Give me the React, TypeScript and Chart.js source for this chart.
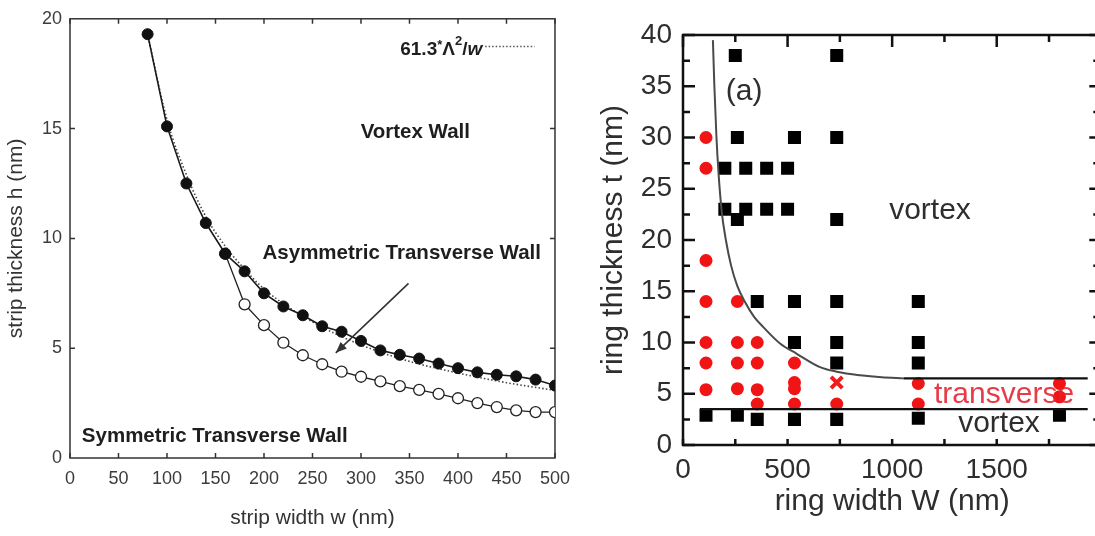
import React, { useEffect, useRef } from 'react';
import { Chart, registerables } from 'chart.js';

Chart.register(...registerables);

const FONT = '"Liberation Sans", Arial, Helvetica, sans-serif';

// ---------------- Left panel data (strip) ----------------
const stripWidthAsym = [80, 100, 120, 140, 160, 180, 200, 220, 240, 260, 280, 300, 320, 340, 360, 380, 400, 420, 440, 460, 480, 500];
const thicknessAsym = [19.3, 15.1, 12.5, 10.7, 9.3, 8.5, 7.5, 6.9, 6.5, 6.0, 5.75, 5.33, 4.9, 4.7, 4.53, 4.3, 4.09, 3.9, 3.79, 3.72, 3.57, 3.3];
const stripWidthSym = [160, 180, 200, 220, 240, 260, 280, 300, 320, 340, 360, 380, 400, 420, 440, 460, 480, 500];
const thicknessSym = [9.3, 7.0, 6.05, 5.25, 4.68, 4.27, 3.93, 3.7, 3.49, 3.27, 3.1, 2.92, 2.72, 2.5, 2.32, 2.17, 2.09, 2.09];
const stripWidthFit = [80, 100, 120, 140, 160, 180, 200, 250, 300, 350, 400, 450, 500];
const thicknessFit = [19.3, 15.4, 12.9, 11.0, 9.65, 8.6, 7.7, 6.2, 5.15, 4.4, 3.87, 3.43, 3.08];
const stripXTickStep = 50;
const stripYTickStep = 5;

// ---------------- Right panel data (ring) ----------------
const vortexW = [110, 200, 200, 250, 260, 260, 260, 300, 300, 355, 355, 400, 400, 500, 500, 533, 533, 533, 533, 735, 735, 735, 735, 735, 735, 735, 1125, 1125, 1125, 1125, 1800];
const vortexT = [2.9, 27, 23, 38, 30, 22, 2.9, 27, 23, 14, 2.5, 27, 23, 27, 23, 30, 14, 10, 2.5, 38, 30, 22, 14, 10, 8, 2.5, 14, 10, 8, 2.6, 2.9];
const transverseW = [110, 110, 110, 110, 110, 110, 110, 260, 260, 260, 260, 355, 355, 355, 355, 533, 533, 533, 533, 735, 1125, 1125, 1800, 1800];
const transverseT = [30, 27, 18, 14, 10, 8, 5.4, 14, 10, 8, 5.5, 10, 8, 5.4, 4, 8, 6.1, 5.5, 4, 4, 6, 4, 6, 4.7];
const crossW = [735];
const crossT = [6.1];
const boundaryW = [143, 150, 160, 170, 185, 205, 230, 260, 295, 340, 384, 464, 544, 655, 735, 847, 950, 1054];
const boundaryT = [39.5, 35, 30, 26.5, 22.8, 20, 17.5, 15.5, 14, 12.5, 11.5, 9.9, 8.9, 7.6, 7.15, 6.8, 6.6, 6.5];
const upperLineW = [1054, 1935];
const upperLineT = [6.5, 6.5];
const lowerLineW = [81, 1935];
const lowerLineT = [3.5, 3.5];
const ringXTickStep = 500;
const ringYTickStep = 5;

const pts = (xs: number[], ys: number[]) => xs.map((x, i) => ({ x, y: ys[i] }));

type FrameOpts = {
  color: string;
  width: number;
  xBottom: number; xTop: number; xMinorBottom: number; xMinorTop: number;
  yLeft: number; yRight: number; yMinorLeft: number; yMinorRight: number;
  skipYEnds?: boolean;
};

const makeFrame = (o: FrameOpts) => ({
  id: 'frame',
  beforeDatasetsDraw(chart: any) {
    const { ctx, chartArea: a } = chart;
    const xs = chart.scales.x;
    const ys = chart.scales.y;
    const xv: number[] = xs.ticks.map((t: any) => t.value);
    const yv: number[] = ys.ticks.map((t: any) => t.value);
    const mids = (v: number[]) => v.slice(1).map((b, i) => (b + v[i]) / 2);
    ctx.save();
    ctx.strokeStyle = o.color;
    ctx.lineWidth = o.width;
    ctx.beginPath();
    const tx = (val: number, lb: number, lt: number) => {
      const p = xs.getPixelForValue(val);
      if (lb) { ctx.moveTo(p, a.bottom); ctx.lineTo(p, a.bottom - lb); }
      if (lt) { ctx.moveTo(p, a.top); ctx.lineTo(p, a.top + lt); }
    };
    const ty = (val: number, ll: number, lr: number) => {
      const p = ys.getPixelForValue(val);
      if (ll) { ctx.moveTo(a.left, p); ctx.lineTo(a.left + ll, p); }
      if (lr) { ctx.moveTo(a.right, p); ctx.lineTo(a.right - lr, p); }
    };
    xv.forEach((v) => tx(v, o.xBottom, o.xTop));
    mids(xv).forEach((v) => tx(v, o.xMinorBottom, o.xMinorTop));
    yv.forEach((v, i) => {
      if (o.skipYEnds && (i === 0 || i === yv.length - 1)) return;
      ty(v, o.yLeft, o.yRight);
    });
    mids(yv).forEach((v) => ty(v, o.yMinorLeft, o.yMinorRight));
    ctx.stroke();
    ctx.strokeRect(a.left, a.top, a.right - a.left, a.bottom - a.top);
    ctx.restore();
  },
});

const leftNotes = {
  id: 'leftNotes',
  afterDatasetsDraw(chart: any) {
    const { ctx } = chart;
    const xs = chart.scales.x;
    const ys = chart.scales.y;
    const X = (v: number) => xs.getPixelForValue(v);
    const Y = (v: number) => ys.getPixelForValue(v);
    ctx.save();
    ctx.fillStyle = '#1e1e1e';
    ctx.textBaseline = 'alphabetic';
    ctx.font = `bold 20.5px ${FONT}`;
    ctx.textAlign = 'center';
    ctx.fillText('Vortex Wall', X(356), Y(14.58));
    ctx.fillText('Asymmetric Transverse Wall', X(342), Y(9.07));
    ctx.textAlign = 'left';
    ctx.fillText('Symmetric Transverse Wall', X(12.2), Y(0.74));

    // legend for dotted fit
    const big = `bold 19px ${FONT}`;
    const small = `bold 13px ${FONT}`;
    const parts = [
      { t: '61.3', f: big, dy: 0 },
      { t: '*', f: small, dy: -6 },
      { t: 'Λ', f: big, dy: 0 },
      { t: '2', f: small, dy: -10 },
      { t: '/', f: big, dy: 0 },
      { t: 'w', f: `italic ${big}`, dy: 0 },
    ];
    let total = 0;
    parts.forEach((p) => { ctx.font = p.f; total += ctx.measureText(p.t).width; });
    let cx = X(425) - total;
    const base = Y(18.33);
    parts.forEach((p) => {
      ctx.font = p.f;
      ctx.fillText(p.t, cx, base + p.dy);
      cx += ctx.measureText(p.t).width;
    });
    ctx.strokeStyle = '#555';
    ctx.lineWidth = 1.5;
    ctx.setLineDash([1.5, 2]);
    ctx.beginPath();
    ctx.moveTo(X(428), Y(18.74));
    ctx.lineTo(X(479), Y(18.74));
    ctx.stroke();
    ctx.setLineDash([]);

    // arrow
    const x1 = X(349), y1 = Y(7.95), x2 = X(274), y2 = Y(4.79);
    ctx.strokeStyle = '#333';
    ctx.fillStyle = '#333';
    ctx.lineWidth = 1.6;
    ctx.beginPath();
    ctx.moveTo(x1, y1);
    ctx.lineTo(x2, y2);
    ctx.stroke();
    const ang = Math.atan2(y2 - y1, x2 - x1);
    const L = 11, W = 4.5;
    ctx.beginPath();
    ctx.moveTo(x2, y2);
    ctx.lineTo(x2 - L * Math.cos(ang) + W * Math.sin(ang), y2 - L * Math.sin(ang) - W * Math.cos(ang));
    ctx.lineTo(x2 - L * Math.cos(ang) - W * Math.sin(ang), y2 - L * Math.sin(ang) + W * Math.cos(ang));
    ctx.closePath();
    ctx.fill();
    ctx.restore();
  },
};

const rightNotes = {
  id: 'rightNotes',
  afterDatasetsDraw(chart: any) {
    const { ctx } = chart;
    const xs = chart.scales.x;
    const ys = chart.scales.y;
    const X = (v: number) => xs.getPixelForValue(v);
    const Y = (v: number) => ys.getPixelForValue(v);
    ctx.save();
    ctx.textAlign = 'center';
    ctx.textBaseline = 'middle';
    ctx.font = `30px ${FONT}`;
    ctx.fillStyle = '#2e2e2e';
    ctx.fillText('(a)', X(292), Y(34.5));
    ctx.fillText('vortex', X(1181), Y(22.9));
    ctx.fillText('vortex', X(1511), Y(2.05));
    ctx.fillStyle = 'rgba(228, 32, 45, 0.88)';
    ctx.fillText('transverse', X(1535), Y(4.88));
    ctx.restore();
  },
};

export default function App() {
  const leftRef = useRef<HTMLCanvasElement>(null);
  const rightRef = useRef<HTMLCanvasElement>(null);

  useEffect(() => {
    const tickFontL = { family: FONT, size: 18 };
    const left = new Chart(leftRef.current as HTMLCanvasElement, {
      type: 'scatter',
      data: {
        datasets: [
          {
            label: 'Asymmetric',
            data: pts(stripWidthAsym, thicknessAsym),
            showLine: true,
            borderColor: '#1a1a1a',
            borderWidth: 1.6,
            pointRadius: 5.5,
            pointBackgroundColor: '#111',
            pointBorderColor: '#111',
            pointBorderWidth: 1,
          },
          {
            label: 'Symmetric',
            data: pts(stripWidthSym, thicknessSym),
            showLine: true,
            borderColor: '#222',
            borderWidth: 1.3,
            pointRadius: 5.5,
            pointBackgroundColor: '#fff',
            pointBorderColor: '#222',
            pointBorderWidth: 1.3,
          },
          {
            label: '61.3*Λ²/w',
            data: pts(stripWidthFit, thicknessFit),
            showLine: true,
            borderColor: '#444',
            borderWidth: 1.6,
            borderDash: [1.5, 2.2],
            pointRadius: 0,
            cubicInterpolationMode: 'monotone',
          },
        ],
      },
      options: {
        responsive: false,
        animation: false,
        events: [],
        layout: { padding: { left: 0, top: 15, right: 17, bottom: 0 } },
        plugins: { legend: { display: false }, tooltip: { enabled: false } },
        scales: {
          x: {
            type: 'linear',
            min: 0,
            max: 500,
            ticks: { stepSize: stripXTickStep, font: tickFontL, color: '#3c3c3c', padding: 10, maxRotation: 0, autoSkip: false },
            grid: { display: false, drawTicks: false },
            border: { display: false },
            title: { display: true, text: 'strip width w (nm)', font: { family: FONT, size: 21 }, color: '#333', padding: { top: 0, bottom: 5 } },
            afterFit: (s: any) => { s.height = 78; },
          },
          y: {
            type: 'linear',
            min: 0,
            max: 20,
            ticks: { stepSize: stripYTickStep, font: tickFontL, color: '#3c3c3c', padding: 8 },
            grid: { display: false, drawTicks: false },
            border: { display: false },
            title: { display: true, text: 'strip thickness h (nm)', font: { family: FONT, size: 21 }, color: '#333', padding: { top: 4, bottom: 0 } },
            afterFit: (s: any) => { s.width = 70; },
          },
        },
      } as any,
      plugins: [
        makeFrame({ color: '#333', width: 1.5, xBottom: 5, xTop: 5, xMinorBottom: 0, xMinorTop: 0, yLeft: 5, yRight: 5, yMinorLeft: 0, yMinorRight: 0, skipYEnds: true }),
        leftNotes,
      ],
    });

    const tickFontR = { family: FONT, size: 28 };
    const right = new Chart(rightRef.current as HTMLCanvasElement, {
      type: 'scatter',
      data: {
        datasets: [
          {
            label: 'lower boundary',
            data: pts(lowerLineW, lowerLineT),
            showLine: true,
            borderColor: '#111',
            borderWidth: 2.2,
            pointRadius: 0,
          },
          {
            label: 'upper boundary',
            data: pts(upperLineW, upperLineT),
            showLine: true,
            borderColor: '#111',
            borderWidth: 2.2,
            pointRadius: 0,
          },
          {
            label: 'boundary curve',
            data: pts(boundaryW, boundaryT),
            showLine: true,
            borderColor: '#4a4a4a',
            borderWidth: 2,
            pointRadius: 0,
            cubicInterpolationMode: 'monotone',
          },
          {
            label: 'cross',
            data: pts(crossW, crossT),
            pointStyle: 'crossRot',
            pointRadius: 8,
            pointBorderColor: '#ee1c1c',
            pointBorderWidth: 4,
          },
          {
            label: 'transverse',
            data: pts(transverseW, transverseT),
            pointStyle: 'circle',
            pointRadius: 6.5,
            pointBackgroundColor: '#f01414',
            pointBorderColor: '#f01414',
            pointBorderWidth: 0,
          },
          {
            label: 'vortex',
            data: pts(vortexW, vortexT),
            pointStyle: 'rect',
            pointRadius: 9.2,
            pointBackgroundColor: '#000',
            pointBorderColor: '#000',
            pointBorderWidth: 0,
          },
        ],
      },
      options: {
        responsive: false,
        animation: false,
        events: [],
        layout: { padding: { left: 0, top: 35, right: 18.7, bottom: 0 } },
        plugins: { legend: { display: false }, tooltip: { enabled: false } },
        scales: {
          x: {
            type: 'linear',
            min: 0,
            max: 2000,
            ticks: {
              stepSize: ringXTickStep,
              font: tickFontR,
              color: '#2e2e2e',
              padding: 8,
              maxRotation: 0,
              autoSkip: false,
              callback: (v: any) => (v >= 2000 ? '' : String(v)),
            },
            grid: { display: false, drawTicks: false },
            border: { display: false },
            title: { display: true, text: 'ring width W (nm)', font: { family: FONT, size: 30 }, color: '#2e2e2e', padding: { top: 0, bottom: 16 } },
            afterFit: (s: any) => { s.height = 91; },
          },
          y: {
            type: 'linear',
            min: 0,
            max: 40,
            ticks: { stepSize: ringYTickStep, font: tickFontR, color: '#2e2e2e', padding: 11 },
            grid: { display: false, drawTicks: false },
            border: { display: false },
            title: { display: true, text: 'ring thickness t (nm)', font: { family: FONT, size: 30 }, color: '#2e2e2e', padding: { top: 16, bottom: 0 } },
            afterFit: (s: any) => { s.width = 103; },
          },
        },
      } as any,
      plugins: [
        makeFrame({ color: '#111', width: 2.5, xBottom: 6, xTop: 12, xMinorBottom: 6, xMinorTop: 7, yLeft: 12, yRight: 12, yMinorLeft: 7, yMinorRight: 8 }),
        rightNotes,
      ],
    });

    return () => {
      left.destroy();
      right.destroy();
    };
  }, []);

  return (
    <div style={{ position: 'fixed', left: 0, top: 0, width: 1095, height: 536, overflow: 'hidden', background: '#fff' }}>
      <div style={{ position: 'absolute', left: 0, top: 0, width: 580, height: 536 }}>
        <canvas ref={leftRef} width={580} height={536} />
      </div>
      <div style={{ position: 'absolute', left: 580, top: 0, width: 540, height: 536 }}>
        <canvas ref={rightRef} width={540} height={536} />
      </div>
    </div>
  );
}
